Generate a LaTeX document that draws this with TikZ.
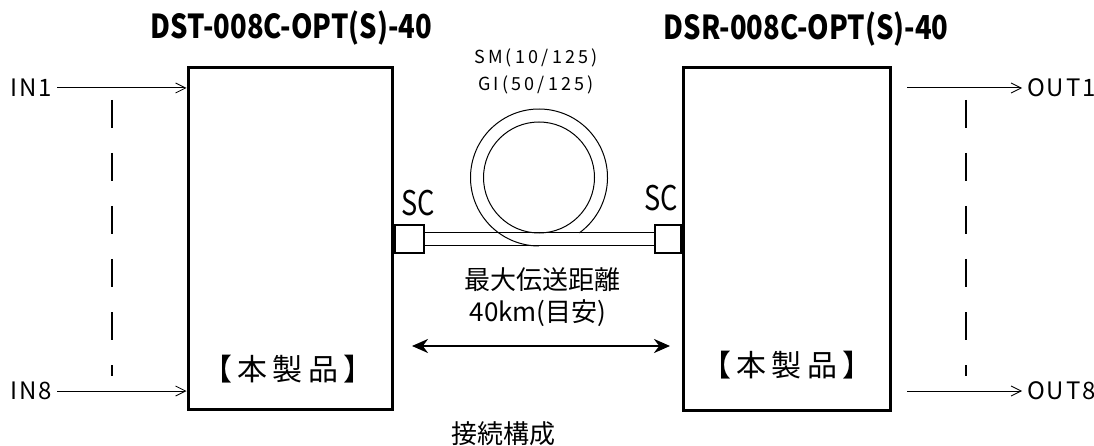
\documentclass[tikz,border=0pt]{standalone}
\usepackage{fontspec}
\usepackage{tikz}
\usetikzlibrary{arrows.meta, positioning}
\newfontfamily\jpfont{Noto Sans CJK JP}
\newfontfamily\jpspaced{Noto Sans CJK JP}[LetterSpace=18]
\newfontfamily\jpport{Noto Sans CJK JP}[LetterSpace=8]

\tikzset{
  unit/.style={draw, line width=3pt, minimum width=204pt, minimum height=342pt, inner sep=0pt},
  scbox/.style={draw, line width=2pt, minimum width=29pt, minimum height=28pt, inner sep=0pt},
  sig/.style={-{Straight Barb[length=10pt,width=10pt,line width=0.8pt]}, line width=1pt},
  span/.style={{Stealth[length=16pt,width=14pt]}-{Stealth[length=16pt,width=14pt]}, line width=2.6pt},
  port/.style={font=\jpport\fontsize{24}{24}\selectfont, inner sep=0pt},
  model/.style={font=\jpfont\bfseries\fontsize{33}{33}\selectfont, xscale=0.83},
  label/.style={font=\jpfont\fontsize{26}{30}\selectfont, align=center}
}

\begin{document}
\begin{tikzpicture}[x=1pt,y=-1pt]
\useasboundingbox[fill=white] (0,0) rectangle (1094,446);

% units
\node[unit] (dst) at (290,238.5) {};
\node[unit, minimum width=207pt] (dsr) at (787,239) {};

\node[model] (dstname) at (291.5,28) {DST-008C-OPT(S)-40};
\node[model] (dsrname) at (806,29) {DSR-008C-OPT(S)-40};

\node[font=\jpspaced\fontsize{30}{30}\selectfont] (dstprod) at (288,369) {【本製品】};
\node[font=\jpspaced\fontsize{30}{30}\selectfont] (dsrprod) at (787,365) {【本製品】};

% inputs
\node[port, anchor=west] (in1) at (10,88) {IN1};
\node[port, anchor=west] (in8) at (10,391) {IN8};
\coordinate (i1) at (57,88);
\coordinate (i8) at (57,391);
\draw[sig] (i1) -- (i1 -| dst.west);
\draw[sig] (i8) -- (i8 -| dst.west);
\draw[line width=1.1pt, dash pattern=on 28pt off 25pt] (112,100) -- (112,376);

% outputs
\node[port, anchor=west] (out1) at (1027,88) {OUT1};
\node[port, anchor=west] (out8) at (1027,391) {OUT8};
\coordinate (o1) at (907,88);
\coordinate (o8) at (907,391);
\draw[sig] (o1) -- ([xshift=-5pt]out1.west);
\draw[sig] (o8) -- ([xshift=-5pt]out8.west);
\draw[line width=1.1pt, dash pattern=on 28pt off 25pt] (966,100) -- (966,376);

% SC connectors
\node[scbox, anchor=west] (scl) at (dst.east |- 0,239.5) {};
\node[scbox, anchor=east, minimum width=26pt] (scr) at (dsr.west |- 0,239.5) {};
\node[font=\jpfont\fontsize{34}{34}\selectfont, xscale=0.8] (sclname) at (418,203) {SC};
\node[font=\jpfont\fontsize{34}{34}\selectfont, xscale=0.8] (scrname) at (661,198) {SC};

% fiber
\draw[line width=1pt] ([yshift=6.5pt]scl.east) -- ([yshift=6.5pt]scr.west);
\draw[line width=1pt] ([yshift=-6.5pt]scl.east) -- ([yshift=-6.5pt]scr.west);
\coordinate (coil) at (539,177.5);
\draw[line width=1pt] (coil) circle (55.5);
\draw[line width=1pt] (coil) ++(54:68.5) arc (54:-270:68.5);

\node[font=\jpspaced\fontsize{18}{18}\selectfont] (sm) at (536,58) {SM(10/125)};
\node[font=\jpspaced\fontsize{18}{18}\selectfont] (gi) at (536,85) {GI(50/125)};

% distance
\node[label] (maxd) at (542,280) {最大伝送距離};
\node[label] (km) at (538,313) {40km(目安)};
\coordinate (dl) at (412,346);
\coordinate (dr) at (670,346);
\draw[span] (dl) -- (dr);

\node[label] (cap) at (503,434) {接続構成};
\end{tikzpicture}
\end{document}
